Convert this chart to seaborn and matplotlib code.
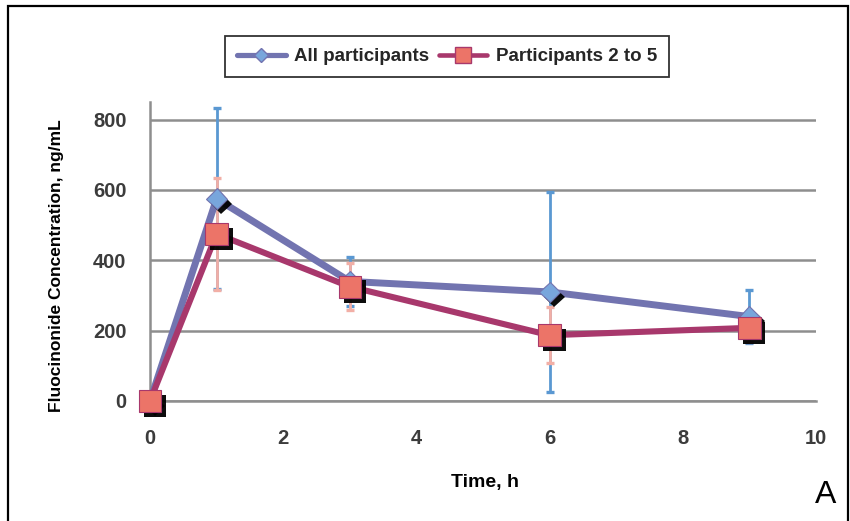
import numpy as np
import pandas as pd
import seaborn as sns
import matplotlib
matplotlib.use("Agg")
import matplotlib.pyplot as plt
import matplotlib.patheffects as pe
from matplotlib.lines import Line2D
from matplotlib.patches import Rectangle

# Fluocinonide plasma concentrations over time
time_h = [0, 1, 3, 6, 9]
all_mean = [0, 575, 340, 310, 240]
all_sd = [0, 258, 70, 283, 75]
sub_mean = [0, 475, 325, 187, 208]
sub_sd = [0, 160, 67, 80, 40]
series_labels = ["All participants", "Participants 2 to 5"]
y_ticks = [0, 200, 400, 600, 800]
x_ticks = [0, 2, 4, 6, 8, 10]

df = pd.DataFrame({
    "time": time_h * 2,
    "conc": all_mean + sub_mean,
    "sd": all_sd + sub_sd,
    "group": [series_labels[0]] * len(time_h) + [series_labels[1]] * len(time_h),
})

sns.set_theme(style="white")
plt.rcParams["font.family"] = ["Liberation Sans", "DejaVu Sans"]

line_cols = {series_labels[0]: "#7274B0", series_labels[1]: "#A8386C"}
face_cols = {series_labels[0]: "#78A6DC", series_labels[1]: "#EC7468"}
err_cols = {series_labels[0]: "#5A98D2", series_labels[1]: "#F2AFA6"}
markers = {series_labels[0]: "D", series_labels[1]: "s"}
msizes = {series_labels[0]: 10.5, series_labels[1]: 16}
lwidths = {series_labels[0]: 5.0, series_labels[1]: 4.4}

fig = plt.figure(figsize=(8.5, 5.21), dpi=100)
ax = fig.add_axes([150 / 850, 1 - 401 / 521, 666 / 850, 299 / 521])

# error bars underneath everything
for g in series_labels:
    d = df[df.group == g]
    d = d[d.sd > 0]
    ax.errorbar(d.time, d.conc, yerr=d.sd, fmt="none", ecolor=err_cols[g],
                elinewidth=2.0, capsize=3, capthick=2.4, zorder=3)

shadow = [pe.SimplePatchShadow(offset=(3.5, -3.5), shadow_rgbFace="black", alpha=0.95),
          pe.Normal()]
for i, g in enumerate(series_labels):
    d = df[df.group == g]
    sns.lineplot(data=d, x="time", y="conc", color=line_cols[g], lw=lwidths[g],
                 ax=ax, zorder=4 + 2 * i, legend=False)
    mk = ax.plot(d.time, d.conc, linestyle="none", marker=markers[g],
                 markersize=msizes[g], markerfacecolor=face_cols[g],
                 markeredgecolor=line_cols[g], markeredgewidth=0.8,
                 zorder=5 + 2 * i, clip_on=False)[0]
    mk.set_path_effects(shadow)

ax.set_xlim(0, 10)
ax.set_ylim(0, 850)
ax.set_xticks(x_ticks)
ax.set_yticks(y_ticks)
ax.set_xlabel("")
ax.set_ylabel("")
ax.yaxis.grid(True, color="#8E8E8E", lw=1.8)
ax.set_axisbelow(True)
for s in ["top", "right"]:
    ax.spines[s].set_visible(False)
for s in ["left", "bottom"]:
    ax.spines[s].set_color("#8E8E8E")
    ax.spines[s].set_linewidth(1.8)
ax.tick_params(axis="y", direction="out", length=6, width=1.4, color="#8E8E8E",
               pad=11, labelsize=14.5, labelcolor="#3C3C3C")
ax.tick_params(axis="x", direction="out", length=4, width=1.4, color="#8E8E8E",
               pad=16, labelsize=14.5, labelcolor="#3C3C3C")
for t in ax.get_xticklabels() + ax.get_yticklabels():
    t.set_fontweight("bold")

fig.text(57 / 850, 1 - 266 / 521, "Fluocinonide Concentration, ng/mL",
         rotation=90, ha="center", va="center", fontsize=12.5, fontweight="bold",
         color="black")
fig.text(485 / 850, 1 - 482 / 521, "Time, h", ha="center", va="center",
         fontsize=14, fontweight="bold", color="black")
fig.text(826 / 850, 1 - 495 / 521, "A", ha="center", va="center",
         fontsize=23, color="black")

handles = [Line2D([], [], color=line_cols[g], lw=lwidths[g] * 0.75,
                  marker=markers[g], markersize=msizes[g] * 0.72,
                  markerfacecolor=face_cols[g], markeredgecolor=line_cols[g])
           for g in series_labels]
leg = fig.legend(handles, series_labels, ncol=2, loc="center",
                 bbox_to_anchor=(447 / 850, 1 - 56.5 / 521), frameon=True,
                 fancybox=False, edgecolor="black", handlelength=2.6,
                 handletextpad=0.45, columnspacing=0.5, borderpad=0.65,
                 prop={"weight": "bold", "size": 13.5})
leg.get_frame().set_linewidth(1.3)

# outer panel frame
fig.patches.append(Rectangle((8 / 850, -0.05), 840 / 850, 1.05 - 6 / 521,
                             transform=fig.transFigure, fill=False,
                             edgecolor="black", lw=1.6))

fig.savefig("out.png", dpi=100)
